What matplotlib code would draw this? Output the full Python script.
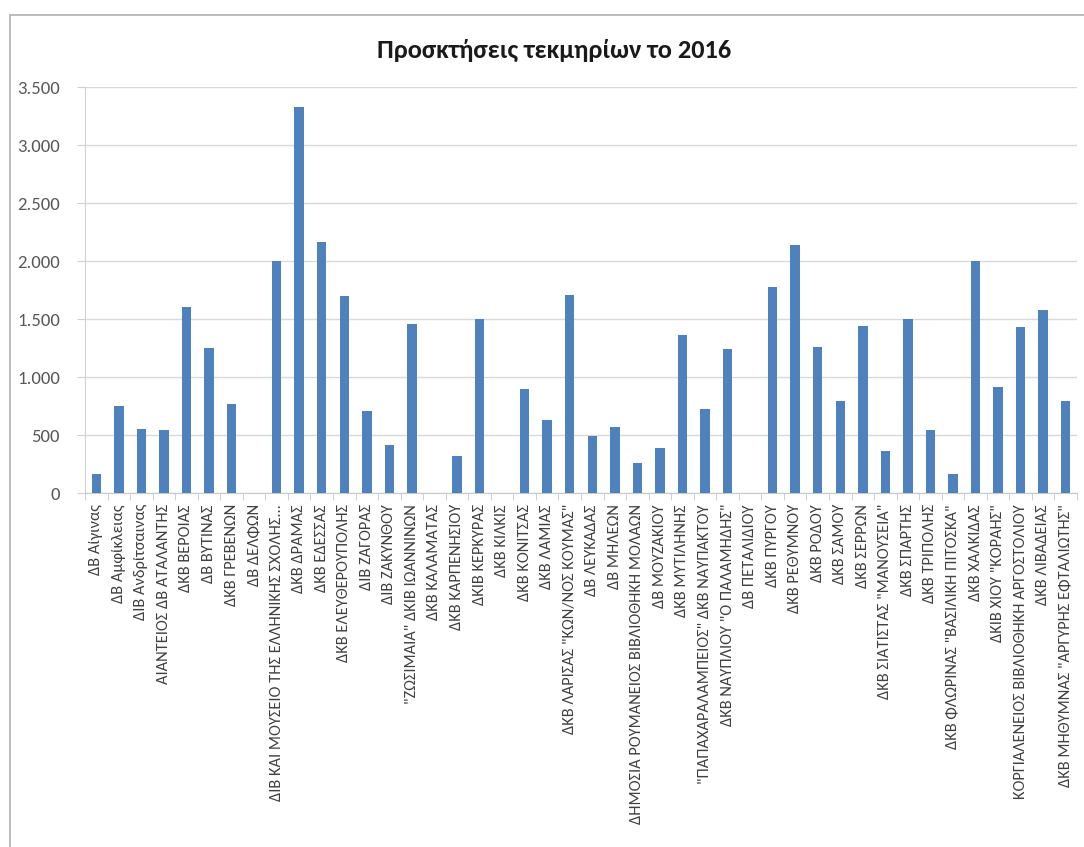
import matplotlib
matplotlib.use("Agg")
import matplotlib.pyplot as plt
from matplotlib.ticker import FuncFormatter, FixedLocator
from matplotlib.patches import Rectangle
import numpy as np

categories = [
    "ΔΒ Αίγινας", "ΔΒ Αμφίκλειας", "ΔΙΒ Ανδρίτσαινας", "ΑΙΑΝΤΕΙΟΣ ΔΒ ΑΤΑΛΑΝΤΗΣ",
    "ΔΚΒ ΒΕΡΟΙΑΣ", "ΔΒ ΒΥΤΙΝΑΣ", "ΔΚΒ ΓΡΕΒΕΝΩΝ", "ΔΒ ΔΕΛΦΩΝ",
    "ΔΙΒ ΚΑΙ ΜΟΥΣΕΙΟ ΤΗΣ ΕΛΛΗΝΙΚΗΣ ΣΧΟΛΗΣ...", "ΔΚΒ ΔΡΑΜΑΣ", "ΔΚΒ ΕΔΕΣΣΑΣ",
    "ΔΚΒ ΕΛΕΥΘΕΡΟΥΠΟΛΗΣ", "ΔΙΒ ΖΑΓΟΡΑΣ", "ΔΙΒ ΖΑΚΥΝΘΟΥ",
    "\"ΖΩΣΙΜΑΙΑ\" ΔΚΙΒ ΙΩΑΝΝΙΝΩΝ", "ΔΚΒ ΚΑΛΑΜΑΤΑΣ", "ΔΚΒ ΚΑΡΠΕΝΗΣΙΟΥ",
    "ΔΚΙΒ ΚΕΡΚΥΡΑΣ", "ΔΚΒ ΚΙΛΚΙΣ", "ΔΚΒ ΚΟΝΙΤΣΑΣ", "ΔΚΒ ΛΑΜΙΑΣ",
    "ΔΚΒ ΛΑΡΙΣΑΣ \"ΚΩΝ/ΝΟΣ ΚΟΥΜΑΣ\"", "ΔΒ ΛΕΥΚΑΔΑΣ", "ΔΒ ΜΗΛΕΩΝ",
    "ΔΗΜΟΣΙΑ ΡΟΥΜΑΝΕΙΟΣ ΒΙΒΛΙΟΘΗΚΗ ΜΟΛΑΩΝ", "ΔΒ ΜΟΥΖΑΚΙΟΥ", "ΔΚΒ ΜΥΤΙΛΗΝΗΣ",
    "\"ΠΑΠΑΧΑΡΑΛΑΜΠΕΙΟΣ\" ΔΚΒ ΝΑΥΠΑΚΤΟΥ", "ΔΚΒ ΝΑΥΠΛΙΟΥ \"Ο ΠΑΛΑΜΗΔΗΣ\"",
    "ΔΒ ΠΕΤΑΛΙΔΙΟΥ", "ΔΚΒ ΠΥΡΓΟΥ", "ΔΚΒ ΡΕΘΥΜΝΟΥ", "ΔΚΒ ΡΟΔΟΥ", "ΔΚΒ ΣΑΜΟΥ",
    "ΔΚΒ ΣΕΡΡΩΝ", "ΔΚΒ ΣΙΑΤΙΣΤΑΣ \"ΜΑΝΟΥΣΕΙΑ\"", "ΔΚΒ ΣΠΑΡΤΗΣ", "ΔΚΒ ΤΡΙΠΟΛΗΣ",
    "ΔΚΒ ΦΛΩΡΙΝΑΣ \"ΒΑΣΙΛΙΚΗ ΠΙΤΟΣΚΑ\"", "ΔΚΒ ΧΑΛΚΙΔΑΣ", "ΔΚΙΒ ΧΙΟΥ \"ΚΟΡΑΗΣ\"",
    "ΚΟΡΓΙΑΛΕΝΕΙΟΣ ΒΙΒΛΙΟΘΗΚΗ ΑΡΓΟΣΤΟΛΙΟΥ", "ΔΚΒ ΛΙΒΑΔΕΙΑΣ",
    "ΔΚΒ ΜΗΘΥΜΝΑΣ \"ΑΡΓΥΡΗΣ ΕΦΤΑΛΙΩΤΗΣ\"",
]
values = [
    164, 750, 555, 545, 1600, 1250, 770, 0, 2000, 3330, 2165, 1700, 710, 410,
    1460, 0, 320, 1500, 0, 900, 630, 1710, 490, 565, 260, 390, 1360, 720, 1240,
    0, 1780, 2140, 1260, 790, 1440, 360, 1500, 540, 165, 2000, 910, 1430, 1580, 790,
]
yticks = [0, 500, 1000, 1500, 2000, 2500, 3000, 3500]
title = "Προσκτήσεις τεκμηρίων το 2016"

plt.rcParams['font.family'] = ['Carlito', 'Open Sans', 'DejaVu Sans']

fig = plt.figure(figsize=(10.84, 8.47), dpi=100)
fig.patches.append(Rectangle((10 / 1084, -0.01), 1.02, 1 - 15 / 847 + 0.01,
                             transform=fig.transFigure, fill=False,
                             edgecolor='#b0b0b0', linewidth=1.2))

ax = fig.add_axes([85 / 1084, 1 - 493 / 847, (1077 - 85) / 1084, (493 - 87) / 847])
x = np.arange(len(categories))
ax.bar(x, values, width=0.42, color='#4F81BD', zorder=3)
ax.set_xlim(-0.5, len(categories) - 0.5)
ax.set_ylim(0, 3500)
ax.set_yticks(yticks)
ax.yaxis.set_major_formatter(FuncFormatter(lambda v, p: f"{int(v):,}".replace(",", ".")))
ax.grid(axis='y', color='#d9d9d9', linewidth=1.0, zorder=0)
ax.set_xticks(x)
ax.set_xticklabels(categories, rotation=90, fontsize=11.8, color='#404040')
ax.xaxis.set_minor_locator(FixedLocator(np.arange(-0.5, len(categories), 1)))
ax.tick_params(axis='x', which='major', length=0, pad=8)
ax.tick_params(axis='x', which='minor', length=5, color='#c8c8c8')
ax.tick_params(axis='y', length=6, color='#d0d0d0', labelsize=13.5,
               labelcolor='#595959', pad=12)
for s in ['top', 'right']:
    ax.spines[s].set_visible(False)
ax.spines['left'].set_color('#d0d0d0')
ax.spines['bottom'].set_color('#c8c8c8')

fig.text(554 / 1084, 1 - 50 / 847, title, ha='center', va='center',
         fontsize=19, fontweight='bold', color='#1a1a1a')

fig.savefig('out.png', dpi=100)
